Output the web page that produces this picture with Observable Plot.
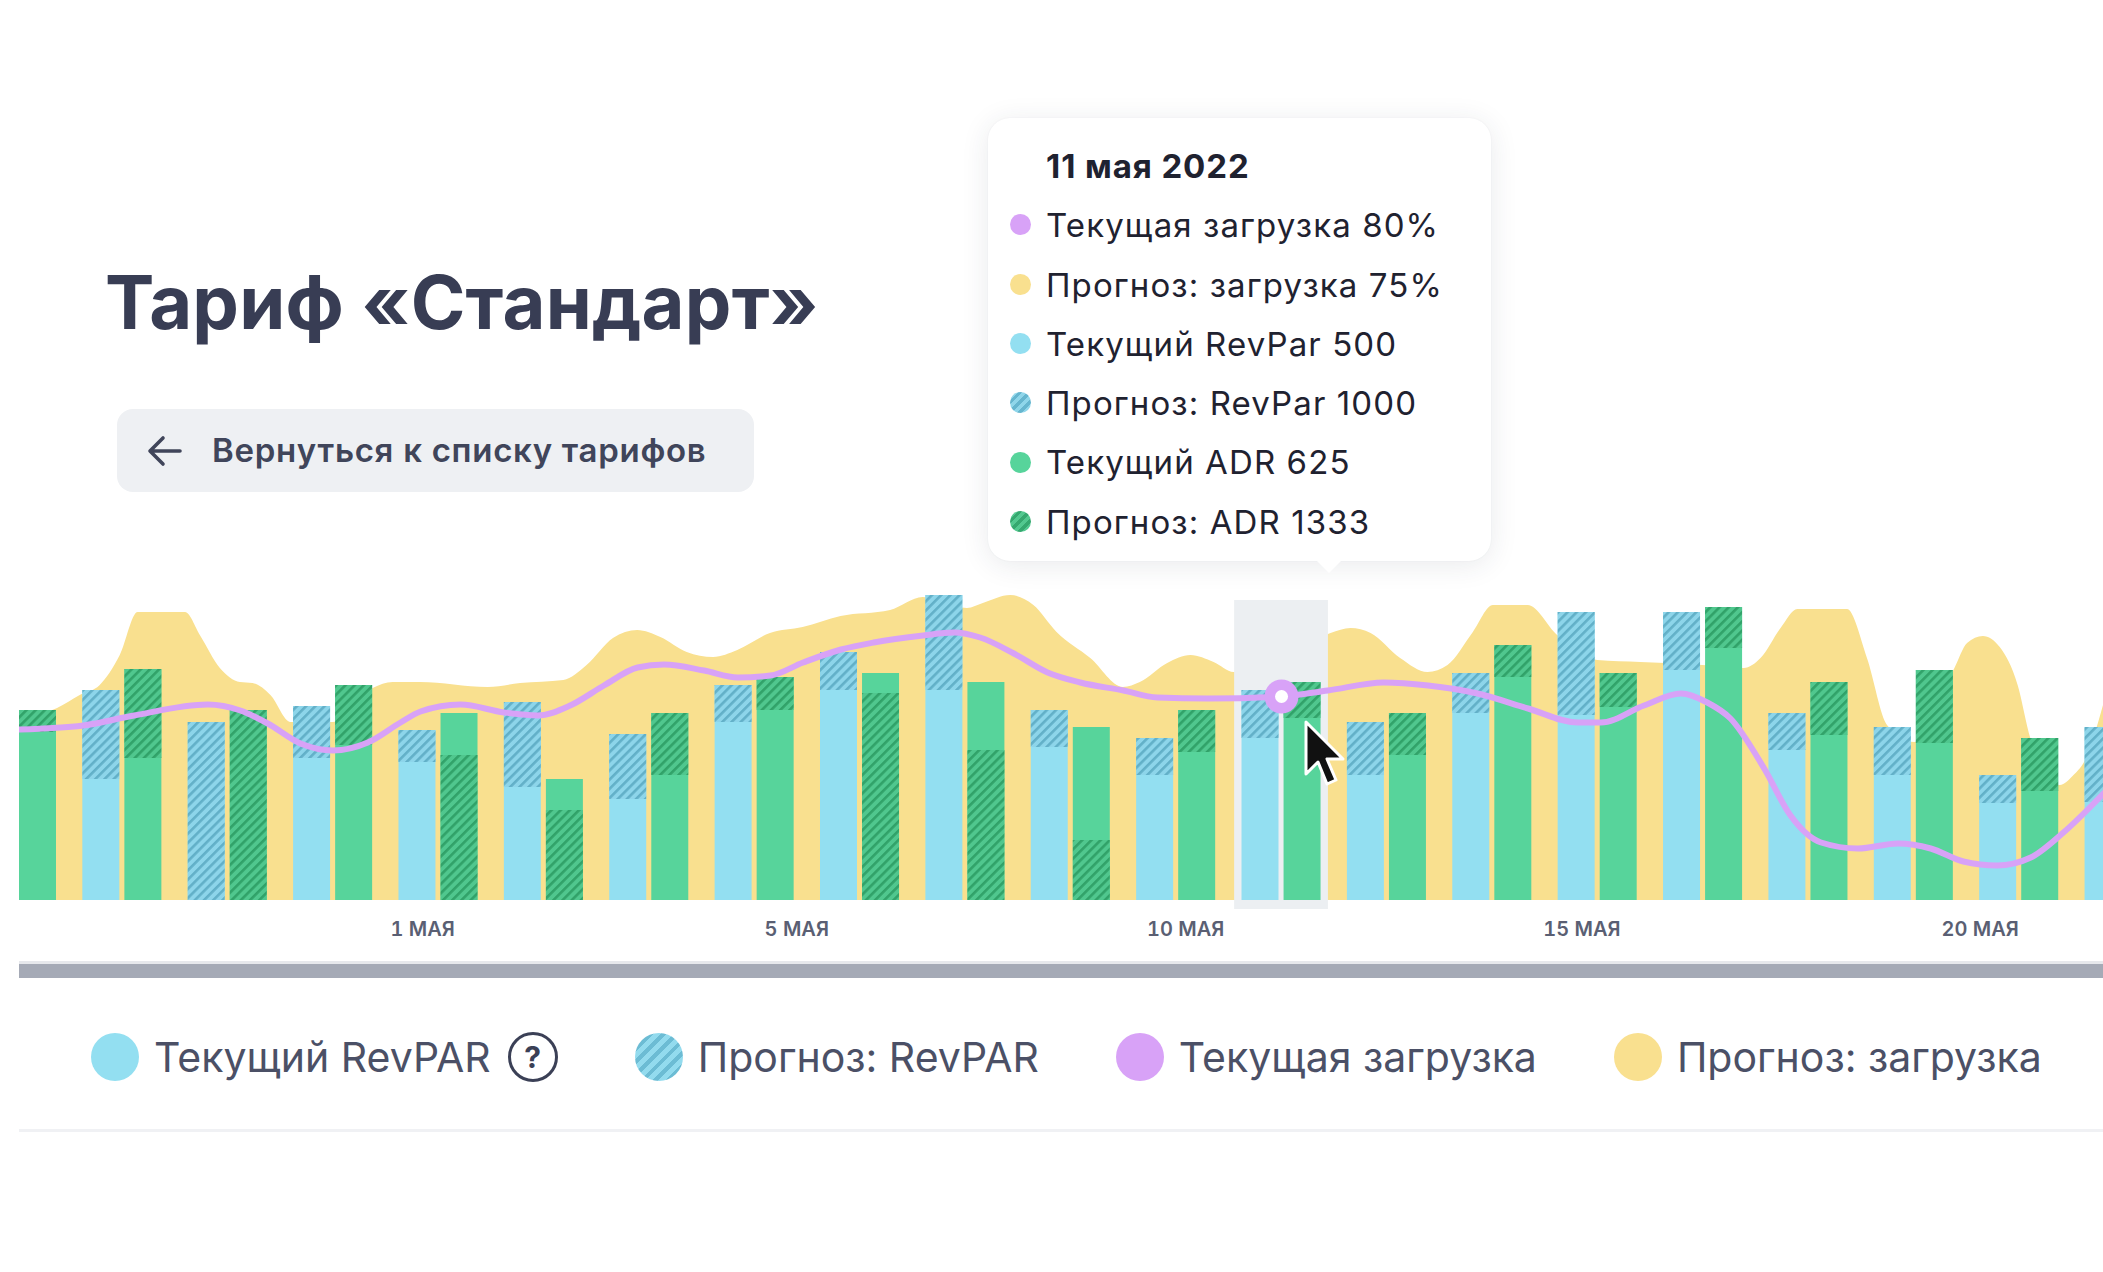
<!DOCTYPE html>
<html>
<head>
<meta charset="utf-8">
<script src="https://cdn.jsdelivr.net/npm/d3@7"></script>
<script src="https://cdn.jsdelivr.net/npm/@observablehq/plot@0.6"></script>
<style>
  html, body { margin: 0; padding: 0; background: #fff; width: 2103px; height: 1272px; overflow: hidden;
    font-family: Inter, "Noto Sans", sans-serif; }
  #title { position: absolute; left: 105px; top: 265px; font-size: 74px; font-weight: 700; color: #383d54;
    line-height: 1; white-space: nowrap; letter-spacing: 0.2px; }
  #back { position: absolute; left: 117px; top: 409px; width: 637px; height: 83px; border-radius: 16px; background: #eef0f3; }
  #back svg { position: absolute; left: 30px; top: 25px; }
  #back span { position: absolute; left: 95px; top: 25px; font-size: 33px; font-weight: 600; color: #40455a; line-height: 1; white-space: nowrap; letter-spacing: 0.7px; }
  #chart { position: absolute; left: 0; top: 560px; }
  #scroll { position: absolute; left: 19px; right: 0; top: 961px; height: 17px; background: #a5aab6; border-top: 3px solid #e6e8ec; box-sizing: border-box; }
  #divider { position: absolute; left: 19px; right: 0; top: 1129px; height: 3px; background: #f0f1f4; }
  #legend { position: absolute; left: 91px; top: 1033px; height: 48px; display: flex; align-items: center; }
  .item { display: flex; align-items: center; margin-right: 77px; }
  .sw { width: 48px; height: 48px; border-radius: 50%; margin-right: 15px; flex: none; }
  .lt { font-size: 41px; color: #4b5066; white-space: nowrap; line-height: 48px; }
  .q { width: 44px; height: 44px; border: 3.5px solid #3b4056; border-radius: 50%; margin-left: 17px; display: flex;
    align-items: center; justify-content: center; font-size: 30px; font-weight: 700; color: #3b4056; }
  #tip { position: absolute; left: 988px; top: 118px; width: 503px; height: 443px; background: #fff; border-radius: 22px;
    box-shadow: 0 4px 28px rgba(40, 50, 70, 0.10), 0 0 2px rgba(40,50,70,0.06); }
  #tip .arrow { position: absolute; left: 328px; bottom: -12px; width: 0; height: 0; border-left: 13px solid transparent;
    border-right: 13px solid transparent; border-top: 13px solid #fff; }
  #tipbody { position: absolute; left: 22px; top: 19px; }
  .trow { height: 59.3px; line-height: 59.3px; font-size: 33px; letter-spacing: 1.1px; color: #1f2230; white-space: nowrap; display: flex; align-items: center; }
  .trow.head { font-weight: 700; padding-left: 36px; letter-spacing: 0.9px; }
  .tdot { width: 21px; height: 21px; border-radius: 50%; margin-right: 15px; flex: none; position: relative; top: -1px; }
  #cursor { position: absolute; left: 1303px; top: 720px; }
</style>
</head>
<body>
<div id="title">Тариф «Стандарт»</div>
<div id="back">
  <svg width="36" height="34" viewBox="0 0 36 34"><path d="M33 17 H4 M16 4 L3 17 L16 30" fill="none" stroke="#40455a" stroke-width="3.6" stroke-linecap="round" stroke-linejoin="round"/></svg>
  <span>Вернуться к списку тарифов</span>
</div>
<div id="chart"></div>
<div id="tip"><div class="arrow"></div><div id="tipbody"></div></div>
<svg id="cursor" width="44" height="72" viewBox="0 0 44 72">
  <path d="M3 2 L3 54 L15 42 L24 64 L33 60 L24 39 L40 39 Z" fill="#111" stroke="#fff" stroke-width="3" stroke-linejoin="round"/>
</svg>
<div id="scroll"></div>
<div id="legend"></div>
<div id="divider"></div>

<script>
// ---------- data ----------
const dayIndex = [0,1,2,3,4,5,6,7,8,9,10,11,12,13,14,15,16,17,18,19,20];

// RevPAR bars (blue): full height, and the hatched (forecast) segment
const revparTotal     = [null,210,178,194,170,198,166,215,248,305,190,162,210,178,227,288,288,187,173,125,173];
const revparHatchLow  = [null,121,  0,142,138,113,101,178,210,210,153,125,162,125,187,185,230,150,125, 97, 98];
const revparHatchHigh = [null,210,178,194,170,198,166,215,248,305,190,162,210,178,227,288,288,187,173,125,173];

// ADR bars (green)
const adrTotal     = [190,231,190,215,187,121,187,223,227,218,173,190,218,187,255,227,293,218,230,162,null];
const adrHatchLow  = [168,142,  0,155,  0,  0,125,190,  0,  0,  0,148,182,145,223,193,252,165,157,109,null];
const adrHatchHigh = [190,231,190,215,145, 90,187,223,207,150, 60,190,218,187,255,227,293,218,230,162,null];

// Forecast load (yellow area), read along the day axis
const loadForecastT = [0.024,0.385,0.60,0.79,0.98,1.15,1.60,1.74,1.93,2.12,2.24,2.41,2.60,3.00,3.38,3.57,3.83,4.47,4.78,5.19,5.41,5.66,5.89,6.11,6.36,6.61,6.84,7.15,7.46,7.82,8.29,8.60,9.02,9.17,9.43,9.65,9.87,10.19,10.50,10.66,10.92,11.14,11.36,11.55,11.80,12.15,12.47,12.66,12.85,13.13,13.39,13.58,13.82,14.01,14.34,14.62,15.00,15.41,16.00,16.39,16.55,16.74,16.90,17.37,17.56,17.75,18.01,18.39,18.51,18.66,18.82,18.99,19.11,19.39,19.52,19.62,19.80];
const loadForecastV = [183,192,205,215,245,288,288,265,232,218,217,205,178,178,212,218,218,213,217,220,235,262,270,263,248,243,250,267,273,284,290,303,292,297,305,295,268,242,213,218,237,245,238,228,236,252,267,272,267,242,228,235,268,295,295,265,240,238,235,232,242,272,291,291,242,175,158,232,257,264,253,215,162,115,125,138,195];

// Current load (purple line)
const loadCurrentT = [0.024,0.63,1.11,1.81,2.12,2.38,2.69,3.00,3.33,3.64,3.83,4.21,4.62,4.94,5.25,5.57,5.89,6.14,6.52,6.84,7.15,7.46,7.82,8.13,8.60,8.89,9.14,9.46,9.78,10.09,10.50,10.82,11.30,12.00,12.44,12.97,13.39,13.86,14.34,14.81,15.03,15.44,15.79,16.04,16.26,16.58,16.83,17.12,17.47,17.85,18.16,18.47,18.79,19.11,19.42,19.80];
const loadCurrentV = [171,175,185,196,190,177,157,150,158,178,189,196,188,185,195,215,233,236,230,223,225,238,251,258,265,268,263,247,228,218,210,203,202,204,210,218,215,207,192,178,178,195,207,198,182,132,85,58,52,57,52,39,35,43,68,107];

const highlightDay = 12;

const tickPositions = [3.85, 7.40, 11.09, 14.85, 18.63];
const tickLabels = ["1 МАЯ", "5 МАЯ", "10 МАЯ", "15 МАЯ", "20 МАЯ"];

const tooltipTitle = "11 мая 2022";
const tooltipLabels = ["Текущая загрузка 80%", "Прогноз: загрузка 75%", "Текущий RevPar 500", "Прогноз: RevPar 1000", "Текущий ADR 625", "Прогноз: ADR 1333"];
const legendLabels = ["Текущий RevPAR", "Прогноз: RevPAR", "Текущая загрузка", "Прогноз: загрузка"];

// ---------- colours ----------
const BLUE = "#93dff1", GREEN = "#57d49b", YELLOW = "#f9e08f", PURPLE = "#d8a2f7";
const hatchBlueCss = `repeating-linear-gradient(-45deg, #66b6cf 0 3px, #8fd6ea 3px 7px)`;
const hatchGreenCss = `repeating-linear-gradient(-45deg, #35a86f 0 3px, #52c88f 3px 7px)`;

// ---------- tables ----------
const revBars = dayIndex.filter(i => revparTotal[i] != null)
  .map(i => ({k: i, top: revparTotal[i], lo: revparHatchLow[i], hi: revparHatchHigh[i]}));
const adrBars = dayIndex.filter(i => adrTotal[i] != null)
  .map(i => ({k: i, top: adrTotal[i], lo: adrHatchLow[i], hi: adrHatchHigh[i]}));
const loadF = loadForecastT.map((t, i) => ({t, v: loadForecastV[i]}));
const loadC = loadCurrentT.map((t, i) => ({t, v: loadCurrentV[i]}));
const hiPoint = loadC.find(d => d.t === highlightDay);

const chart = Plot.plot({
  width: 2103,
  height: 430,
  marginLeft: 19,
  marginRight: 0,
  marginTop: 0,
  marginBottom: 90,
  style: {fontFamily: "Inter, 'Noto Sans', sans-serif", fontSize: "20px", color: "#5a5f73", background: "transparent", overflow: "visible"},
  x: {domain: [0.024, 19.80]},
  y: {domain: [0, 340], axis: null},
  marks: [
    Plot.areaY(loadF, {x: "t", y: "v", curve: "monotone-x", fill: YELLOW, clip: true}),
    Plot.rect([highlightDay], {x1: d => d - 0.445, x2: d => d + 0.445, y1: -9, y2: 300, fill: "#eceff2"}),
    Plot.rect(revBars, {x1: d => d.k - 0.375, x2: d => d.k - 0.024, y1: 0, y2: "top", fill: BLUE, clip: true}),
    Plot.rect(revBars, {x1: d => d.k - 0.375, x2: d => d.k - 0.024, y1: "lo", y2: "hi", fill: "url(#hatchBlue)", clip: true}),
    Plot.rect(adrBars, {x1: d => d.k + 0.024, x2: d => d.k + 0.375, y1: 0, y2: "top", fill: GREEN, clip: true}),
    Plot.rect(adrBars, {x1: d => d.k + 0.024, x2: d => d.k + 0.375, y1: "lo", y2: "hi", fill: "url(#hatchGreen)", clip: true}),
    Plot.line(loadC, {x: "t", y: "v", curve: "monotone-x", stroke: PURPLE, strokeWidth: 6, clip: true}),
    Plot.dot([hiPoint], {x: "t", y: "v", r: 17, fill: PURPLE}),
    Plot.dot([hiPoint], {x: "t", y: "v", r: 6.5, fill: "#fff"}),
    Plot.axisX(tickPositions, {
      tickFormat: d => tickLabels[tickPositions.indexOf(d)],
      tickSize: 0, tickPadding: 21, fontWeight: 600, fontSize: 20, label: null
    })
  ]
});

const ns = "http://www.w3.org/2000/svg";
const defs = document.createElementNS(ns, "defs");
defs.innerHTML = `
  <pattern id="hatchBlue" patternUnits="userSpaceOnUse" width="6.5" height="6.5" patternTransform="rotate(45)">
    <rect width="6.5" height="6.5" fill="#8dd5ea"/><rect width="2.6" height="6.5" fill="#62b0c8"/>
  </pattern>
  <pattern id="hatchGreen" patternUnits="userSpaceOnUse" width="6.5" height="6.5" patternTransform="rotate(45)">
    <rect width="6.5" height="6.5" fill="#50c78e"/><rect width="2.6" height="6.5" fill="#31a269"/>
  </pattern>`;
chart.prepend(defs);
document.getElementById("chart").appendChild(chart);

// ---------- tooltip ----------
const tipDots = [PURPLE, YELLOW, BLUE, hatchBlueCss, GREEN, hatchGreenCss];
const tb = document.getElementById("tipbody");
tb.innerHTML = `<div class="trow head">${tooltipTitle}</div>` +
  tooltipLabels.map((l, i) => `<div class="trow"><span class="tdot" style="background:${tipDots[i]}"></span>${l}</div>`).join("");

// ---------- legend ----------
const legendFills = [BLUE, `repeating-linear-gradient(-45deg, #6cbcd4 0 4px, #93dbee 4px 9px)`, PURPLE, YELLOW];
const lg = document.getElementById("legend");
lg.innerHTML = legendLabels.map((l, i) =>
  `<div class="item"><span class="sw" style="background:${legendFills[i]}"></span><span class="lt">${l}</span>${i === 0 ? '<span class="q">?</span>' : ''}</div>`
).join("");
</script>
</body>
</html>
